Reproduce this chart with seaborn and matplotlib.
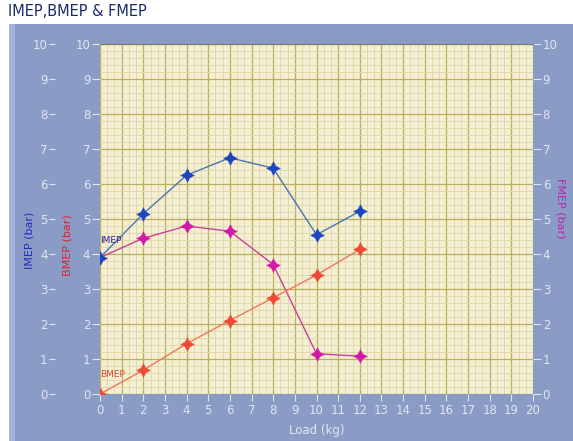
import matplotlib
matplotlib.use("Agg")
import matplotlib.pyplot as plt
import matplotlib.patches as mpatches
from matplotlib.ticker import MultipleLocator
import seaborn as sns
import pandas as pd

# ---- data ----
load = [0, 2, 4, 6, 8, 10, 12]
imep = [3.9, 5.15, 6.25, 6.75, 6.45, 4.55, 5.22]
bmep = [0.0, 0.68, 1.44, 2.1, 2.75, 3.4, 4.13]
fmep = [3.9, 4.45, 4.8, 4.65, 3.7, 1.15, 1.08]
x_ticks = list(range(0, 21))
y_ticks = list(range(0, 11))

sns.set_style("white")
plt.rcParams['font.family'] = ['DejaVu Sans']

W, H = 573, 441
fig = plt.figure(figsize=(W / 100, H / 100), dpi=100)
fig.patch.set_facecolor("white")

panel = "#8a9bc5"
fig.patches.append(mpatches.Rectangle((9 / W, 0), 1 - 9 / W, 1 - 24 / H, transform=fig.transFigure,
                                      facecolor=panel, edgecolor="none", zorder=-10))
fig.patches.append(mpatches.Rectangle((9 / W, 0), 6 / W, 1 - 24 / H, transform=fig.transFigure,
                                      facecolor="#a3b3d8", edgecolor="none", zorder=-9))

left, right, top, bottom = 100, 533, 44, 394
ax = fig.add_axes([left / W, 1 - bottom / H, (right - left) / W, (bottom - top) / H])
ax.set_facecolor("#f4efd2")

df = pd.DataFrame({"load": load, "imep": imep, "bmep": bmep, "fmep": fmep})
star = (4, 1, 0)
mk = dict(marker=star, markersize=10, markeredgewidth=0.2)
sns.lineplot(data=df, x="load", y="imep", ax=ax, color="#4d74b0", lw=1.0,
             markerfacecolor="#1c45c0", markeredgecolor="#1c45c0", zorder=5, **mk)
sns.lineplot(data=df, x="load", y="fmep", ax=ax, color="#c8409a", lw=1.0,
             markerfacecolor="#d21aa8", markeredgecolor="#d21aa8", zorder=4, **mk)
sns.lineplot(data=df, x="load", y="bmep", ax=ax, color="#ec7a5c", lw=1.0,
             markerfacecolor="#ee4a36", markeredgecolor="#ee4a36", zorder=4, **mk)

ax.set_xlim(0, 20)
ax.set_ylim(0, 10)
ax.set_xticks(x_ticks)
ax.set_yticks(y_ticks)
ax.xaxis.set_minor_locator(MultipleLocator(1 / 3))
ax.yaxis.set_minor_locator(MultipleLocator(0.2))
ax.grid(which="major", color="#b8ae5c", lw=0.9)
ax.grid(which="minor", color="#ddd6a8", lw=0.6)
ax.set_axisbelow(True)
for s in ax.spines.values():
    s.set_visible(False)
ax.spines["top"].set_visible(True)
ax.spines["top"].set_color("#7a7a6a")

lab = "#e2e6f0"
ax.tick_params(axis="x", which="major", direction="out", length=5, color=lab, labelcolor=lab,
               labelsize=8.5, pad=2, bottom=True)
ax.tick_params(axis="y", which="major", direction="out", length=6, color=lab, labelcolor=lab,
               labelsize=8.5, pad=1, left=True, right=True, labelright=True)
ax.tick_params(which="minor", length=0)
ax.set_xlabel("Load (kg)", color=lab, fontsize=8.5, labelpad=5)
ax.set_ylabel("")

# outer IMEP axis
sec = ax.secondary_yaxis(-0.105)
sec.set_yticks(y_ticks)
sec.tick_params(direction="out", length=4, color=lab, labelcolor=lab, labelsize=8.5, pad=1)
sec.spines["left"].set_visible(False)

fig.text(30 / W, 1 - 240 / H, "IMEP (bar)", rotation=90, color="#1e2fc0", fontsize=8,
         ha="center", va="center")
fig.text(68 / W, 1 - 245 / H, "BMEP (bar)", rotation=90, color="#e02030", fontsize=8,
         ha="center", va="center")
fig.text(561 / W, 1 - 208 / H, "FMEP (bar)", rotation=270, color="#c020b0", fontsize=8,
         ha="center", va="center")

ax.text(0.0, 4.38, "IMEP", color="#3a1fa0", fontsize=6.5, ha="left", va="center", zorder=6)
ax.text(0.0, 0.55, "BMEP", color="#e04a3a", fontsize=6.5, ha="left", va="center", zorder=6)

fig.text(8 / W, 1 - 11 / H, "IMEP,BMEP & FMEP", color="#1a2a6a", fontsize=10.5,
         ha="left", va="center")

fig.savefig("out.png", dpi=100, facecolor=fig.get_facecolor())
